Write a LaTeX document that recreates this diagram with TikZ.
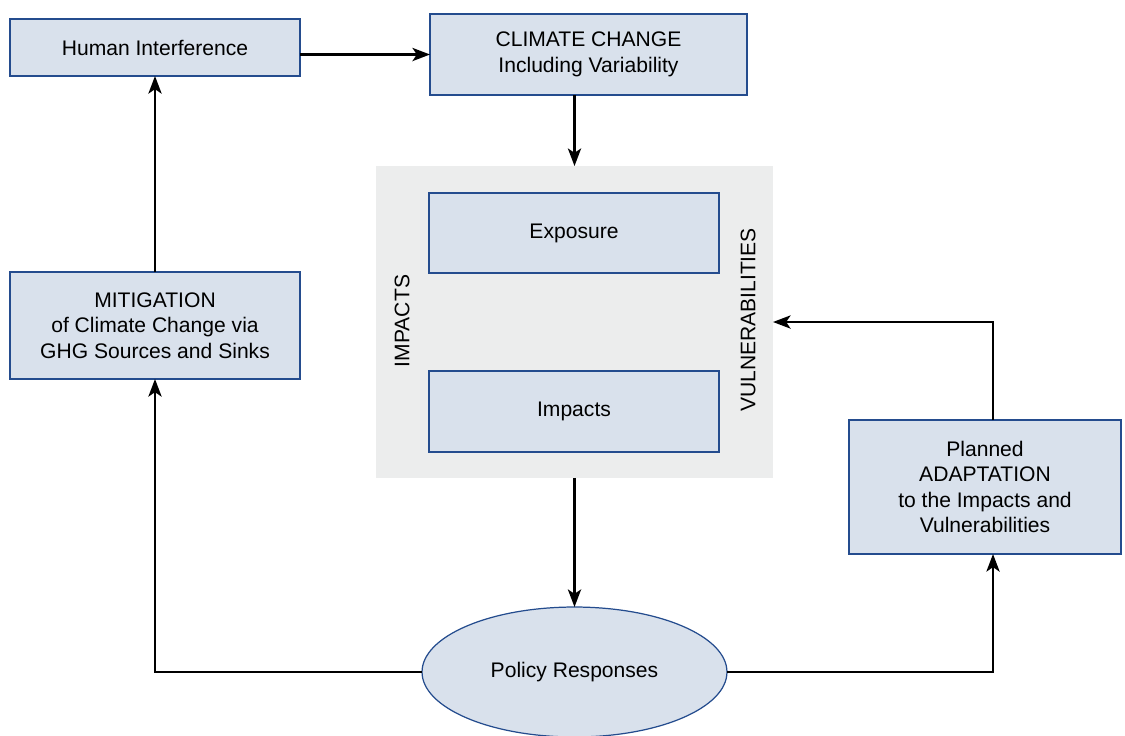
\documentclass[tikz,border=0pt]{standalone}
\usepackage{fontspec}
\setmainfont{Liberation Sans}
\usepackage{tikz}
\usetikzlibrary{positioning}
\usetikzlibrary{arrows.meta}
\usetikzlibrary{shapes.geometric}
\definecolor{boxColor}{HTML}{D9E1EC}
\definecolor{borderColor}{HTML}{244C8E}
\definecolor{panelColor}{HTML}{ECEDED}

\begin{document}
\begin{tikzpicture}[x=0.02cm, y=-0.02cm,
    every node/.style={font=\fontsize{12}{14.5}\selectfont, inner sep=0pt, outer sep=0pt},
    box/.style={draw=borderColor, line width=0.7pt, fill=boxColor, align=center, minimum width=5.8cm},
    arrow/.style={line width=1.35pt, -{Stealth[length=10pt, width=7.5pt, inset=2.5pt]}}]
          \useasboundingbox (0,0) rectangle (1125,735);

          \node[box, minimum height=1.14cm] (hum) at (155,47.5) {Human Interference};
          \node[box, minimum width=6.34cm, minimum height=1.62cm] (cc) at (588.5,54.5) {CLIMATE CHANGE\\Including Variability};

          \node[fill=panelColor, minimum width=7.94cm, minimum height=6.24cm] (panel) at (574.5,322) {};
          \node[box, minimum height=1.6cm] (expo) at (574,233) {Exposure};
          \node[box, minimum height=1.62cm] (imp) at (574,411.5) {Impacts};
          \node[rotate=90] (impl) at (402,321) {IMPACTS};
          \node[rotate=90] (vul) at (748,320) {VULNERABILITIES};

          \node[box, minimum height=2.14cm] (mit) at (155,325.5) {MITIGATION\\of Climate Change via\\GHG Sources and Sinks};
          \node[box, minimum width=5.44cm, minimum height=2.68cm] (adapt) at (985,487) {Planned\\ADAPTATION\\to the Impacts and\\Vulnerabilities};
          \node[ellipse, draw=borderColor, line width=0.7pt, fill=boxColor, minimum width=6.1cm, minimum height=2.6cm] (pol) at (574.5,672) {Policy Responses};
          \coordinate (adx) at (993,0);

          \draw[arrow] (hum.east |- cc) -- (cc.west);
          \draw[arrow] (panel.north |- cc.south) -- (panel.north);
          \draw[arrow] (mit) -- (hum);
          \draw[arrow] (panel.south) -- (pol.north);
          \draw[arrow] (pol.west) -| (mit.south);
          \draw[arrow] (pol.east) -| (adx |- adapt.south);
          \draw[arrow] (adx |- adapt.north) |- (panel.east);
        \end{tikzpicture}
\end{document}
